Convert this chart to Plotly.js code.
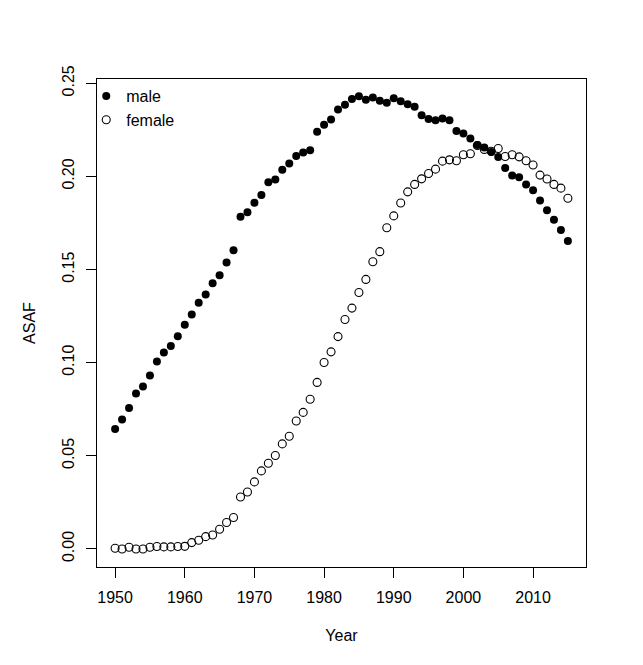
<!DOCTYPE html>
<html>
<head>
<meta charset="utf-8">
<script src="https://cdn.plot.ly/plotly-3.0.1.min.js"></script>
<style>html,body{margin:0;padding:0;background:#fff;}#chart{width:643px;height:665px;}</style>
</head>
<body>
<div id="chart"></div>
<script>
var years = [1950,1951,1952,1953,1954,1955,1956,1957,1958,1959,
             1960,1961,1962,1963,1964,1965,1966,1967,1968,1969,
             1970,1971,1972,1973,1974,1975,1976,1977,1978,1979,
             1980,1981,1982,1983,1984,1985,1986,1987,1988,1989,
             1990,1991,1992,1993,1994,1995,1996,1997,1998,1999,
             2000,2001,2002,2003,2004,2005,2006,2007,2008,2009,
             2010,2011,2012,2013,2014,2015];

var male = [0.0644,0.0695,0.0757,0.0835,0.0872,0.0931,0.1006,0.1055,0.1089,0.1142,
            0.1203,0.1258,0.1322,0.1366,0.1427,0.1470,0.1538,0.1603,0.1783,0.1808,
            0.1858,0.1900,0.1968,0.1984,0.2036,0.2070,0.2109,0.2129,0.2140,0.2240,
            0.2277,0.2305,0.2359,0.2385,0.2415,0.2431,0.2411,0.2424,0.2406,0.2395,
            0.2420,0.2404,0.2387,0.2374,0.2329,0.2308,0.2302,0.2311,0.2302,0.2244,
            0.2231,0.2203,0.2168,0.2155,0.2131,0.2104,0.2045,0.2005,0.1996,0.1957,
            0.1926,0.1871,0.1819,0.1767,0.1712,0.1653];

var female = [0.0004,0.0000,0.0009,0.0000,0.0000,0.0009,0.0013,0.0011,0.0011,0.0013,
              0.0014,0.0034,0.0047,0.0066,0.0075,0.0106,0.0142,0.0169,0.0279,0.0306,
              0.0360,0.0419,0.0460,0.0502,0.0564,0.0605,0.0687,0.0733,0.0804,0.0894,
              0.1001,0.1058,0.1140,0.1232,0.1293,0.1377,0.1447,0.1542,0.1596,0.1724,
              0.1788,0.1857,0.1917,0.1957,0.1987,0.2016,0.2039,0.2082,0.2089,0.2084,
              0.2116,0.2122,0.2166,0.2145,0.2135,0.2150,0.2107,0.2116,0.2105,0.2084,
              0.2061,0.2007,0.1986,0.1957,0.1937,0.1883];

var yTicks = [0.00,0.05,0.10,0.15,0.20,0.25];
var yTickText = ["0.00","0.05","0.10","0.15","0.20","0.25"];
var xTicks = [1950,1960,1970,1980,1990,2000,2010];

var font = "Liberation Sans, Arial, Helvetica, sans-serif";

var traces = [
  {x: years, y: male, name: "male", type: "scatter", mode: "markers",
   marker: {symbol: "circle", size: 8, color: "#000000"}},
  {x: years, y: female, name: "female", type: "scatter", mode: "markers",
   marker: {symbol: "circle-open", size: 8, color: "#000000", line: {width: 1.1, color: "#000000"}}}
];

var layout = {
  width: 643, height: 665,
  margin: {l: 97, r: 57, t: 79, b: 98, pad: 0},
  paper_bgcolor: "#ffffff", plot_bgcolor: "#ffffff",
  font: {family: font, size: 16, color: "#000000"},
  showlegend: true,
  legend: {x: -0.022, y: 1.0, xanchor: "left", yanchor: "top",
           bgcolor: "rgba(0,0,0,0)", borderwidth: 0,
           font: {family: font, size: 16, color: "#000000"},
           tracegroupgap: 0, itemwidth: 30},
  xaxis: {
    range: [1947.4, 2017.6], tickvals: xTicks, ticktext: xTicks.map(String),
    showgrid: false, zeroline: false, showline: true, linecolor: "#000000", linewidth: 1,
    mirror: true, ticks: "outside", ticklen: 10, tickwidth: 1, tickcolor: "#000000",
    tickfont: {family: font, size: 16, color: "#000000"}, ticklabelstandoff: 6,
    title: {text: "Year", font: {family: font, size: 16, color: "#000000"}, standoff: 24}
  },
  yaxis: {
    range: [-0.0097, 0.2523], tickvals: yTicks, ticktext: yTickText, tickangle: -90,
    showgrid: false, zeroline: false, showline: true, linecolor: "#000000", linewidth: 1,
    mirror: true, ticks: "outside", ticklen: 10, tickwidth: 1, tickcolor: "#000000",
    tickfont: {family: font, size: 16, color: "#000000"}, ticklabelstandoff: 6,
    title: {text: "ASAF", font: {family: font, size: 16, color: "#000000"}, standoff: 19}
  }
};

Plotly.newPlot("chart", traces, layout, {displayModeBar: false, staticPlot: true});
</script>
</body>
</html>
